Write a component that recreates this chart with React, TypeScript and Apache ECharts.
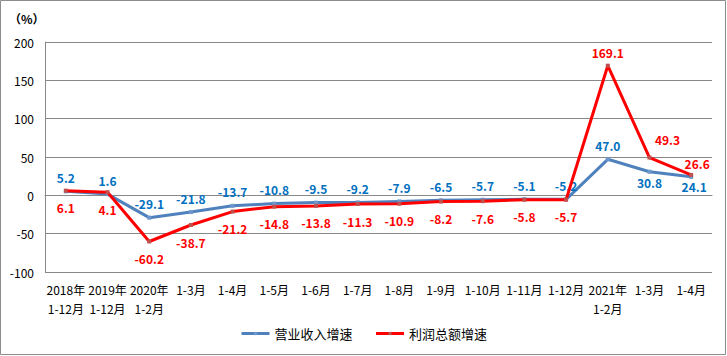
import React, { useEffect, useRef } from "react";
import * as echarts from "echarts";

const categories = [
  "2018年\n1-12月", "2019年\n1-12月", "2020年\n1-2月", "1-3月", "1-4月", "1-5月", "1-6月", "1-7月",
  "1-8月", "1-9月", "1-10月", "1-11月", "1-12月", "2021年\n1-2月", "1-3月", "1-4月",
];
const revenueGrowth = [5.2, 1.6, -29.1, -21.8, -13.7, -10.8, -9.5, -9.2, -7.9, -6.5, -5.7, -5.1, -5.2, 47.0, 30.8, 24.1];
const profitGrowth = [6.1, 4.1, -60.2, -38.7, -21.2, -14.8, -13.8, -11.3, -10.9, -8.2, -7.6, -5.8, -5.7, 169.1, 49.3, 26.6];
const seriesNames = ["营业收入增速", "利润总额增速"];
const yMin = -100;
const yMax = 200;
const yInterval = 50;

const FONT = "'Noto Sans CJK SC', 'Noto Sans', sans-serif";

export default function App() {
  const ref = useRef<HTMLDivElement>(null);
  useEffect(() => {
    document.body.style.margin = "0";
    const chart = echarts.init(ref.current!, null, { renderer: "svg" });
    const blueData = revenueGrowth.map((v, i) => {
      if (i === 14) return { value: v, label: { position: "bottom", distance: 3 } };
      if (i === 15) return { value: v, label: { position: "bottom", distance: 2, offset: [3, 0] } };
      return v;
    });
    const redData = profitGrowth.map((v, i) => {
      if (i === 13) return { value: v, label: { position: "top", distance: 5 } };
      if (i === 14) return { value: v, label: { position: "top", distance: 4, offset: [18, -6] } };
      if (i === 15) return { value: v, label: { position: "top", distance: 3, offset: [6, 0] } };
      return v;
    });
    chart.setOption({
      animation: false,
      textStyle: { fontFamily: FONT },
      grid: { left: 45, right: 15, top: 42, bottom: 84 },
      graphic: [
        {
          type: "rect",
          shape: { x: 0.5, y: 0.5, width: 725, height: 354 },
          style: { fill: "none", stroke: "#8c8c8c", lineWidth: 1 },
          silent: true,
        },
        {
          type: "text",
          left: 9,
          top: 12,
          style: { text: "（%）", fontSize: 12, fontFamily: FONT, fill: "#000", fontWeight: "bold" },
        },
      ],
      legend: {
        bottom: 11,
        left: "center",
        itemWidth: 28,
        itemHeight: 4,
        itemGap: 22,
        lineStyle: { width: 3 },
        textStyle: { fontSize: 13, color: "#000", fontFamily: FONT },
        data: seriesNames,
      },
      xAxis: {
        type: "category",
        data: categories,
        boundaryGap: true,
        axisLine: { show: true, lineStyle: { color: "#898989" } },
        axisTick: { show: false },
        axisLabel: { interval: 0, fontSize: 12, color: "#000", lineHeight: 19, margin: 8, fontFamily: FONT },
      },
      yAxis: {
        type: "value",
        min: yMin,
        max: yMax,
        interval: yInterval,
        axisLine: { show: true, lineStyle: { color: "#898989" } },
        axisTick: { show: false },
        axisLabel: { fontSize: 12, color: "#000", margin: 11, fontFamily: FONT },
        splitLine: { show: true, lineStyle: { color: "#898989" } },
      },
      series: [
        {
          name: seriesNames[0],
          type: "line",
          data: blueData,
          symbol: "rect",
          symbolSize: 4,
          lineStyle: { color: "#4F81BD", width: 3 },
          itemStyle: { color: "#6D97CC" },
          label: { show: true, position: "top", distance: 6, color: "#0070C0", fontSize: 12, fontWeight: "bold", formatter: (p: any) => Number(p.value).toFixed(1) },
          z: 2,
        },
        {
          name: seriesNames[1],
          type: "line",
          data: redData,
          symbol: "rect",
          symbolSize: 4,
          lineStyle: { color: "#FF0000", width: 3 },
          itemStyle: { color: "#C0504D" },
          label: { show: true, position: "bottom", distance: 9, color: "#FF0000", fontSize: 12, fontWeight: "bold", formatter: (p: any) => Number(p.value).toFixed(1) },
          z: 3,
        },
      ],
    });
    return () => chart.dispose();
  }, []);
  return <div ref={ref} style={{ width: 727, height: 356 }} />;
}
